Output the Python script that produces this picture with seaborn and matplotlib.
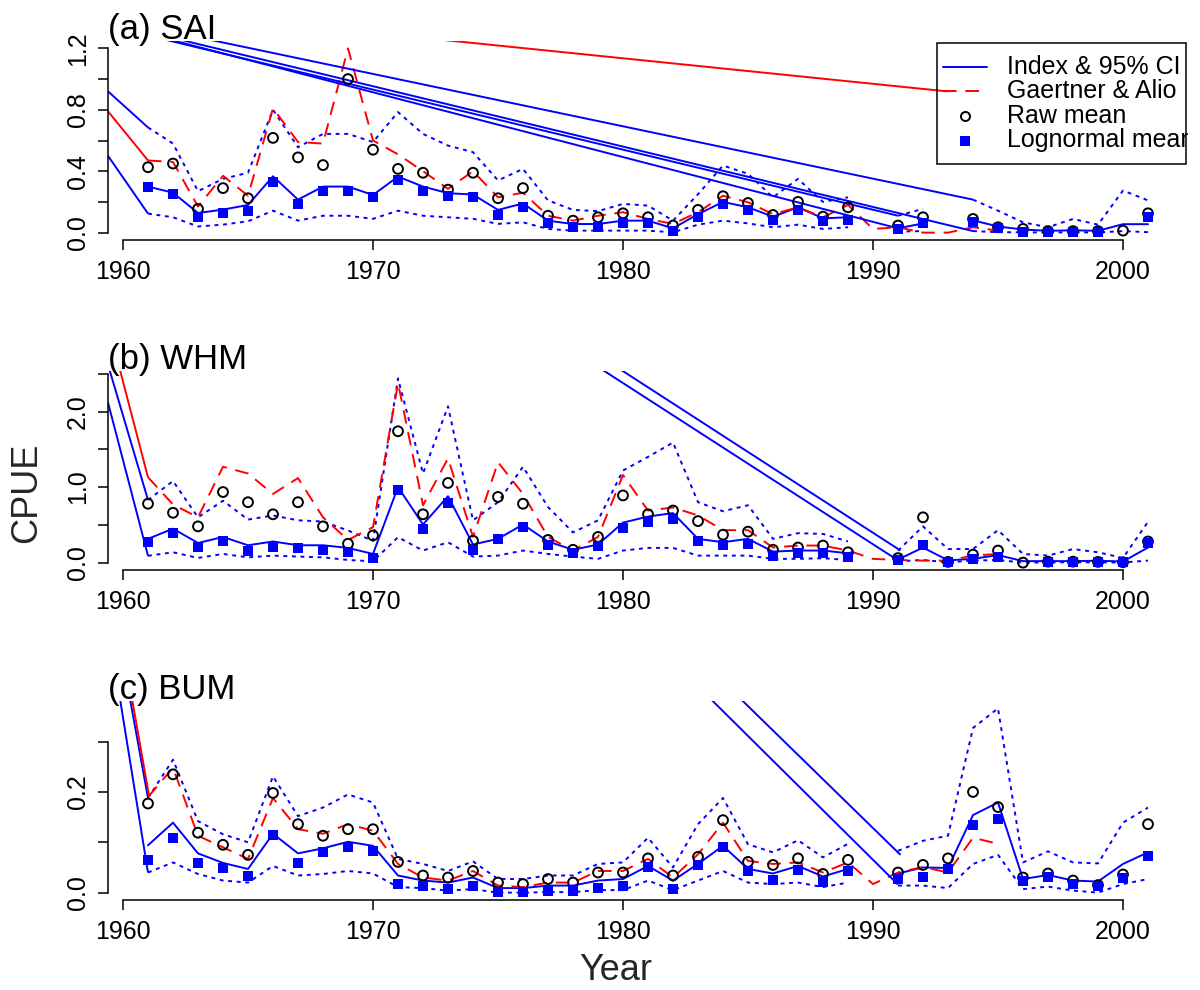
import numpy as np
import pandas as pd
import matplotlib
matplotlib.use("Agg")
import matplotlib.pyplot as plt
import seaborn as sns
from matplotlib.patches import Rectangle
from matplotlib.lines import Line2D

sns.set_theme(style="white")
plt.rcParams["font.family"] = ["Liberation Sans", "DejaVu Sans"]

nan = np.nan
years = np.arange(1961, 2002)

# ---- (a) SAI ----
sai_raw = [0.426, 0.45, 0.154, 0.29, 0.224, 0.617, 0.49, 0.44, 1.0, 0.54, 0.415, 0.39, 0.28, 0.39, 0.224,
           0.29, 0.11, 0.078, 0.10, 0.126, 0.10, 0.046, 0.148, 0.237, 0.193, 0.115, 0.20, 0.104, 0.165, nan,
           0.046, 0.10, nan, 0.089, 0.035, 0.024, 0.01, 0.01, 0.01, 0.013, 0.126]
sai_logn = [0.30, 0.25, 0.104, 0.13, 0.14, 0.33, 0.187, 0.27, 0.27, 0.23, 0.345, 0.27, 0.24, 0.23, 0.115,
            0.165, 0.06, 0.035, 0.035, 0.06, 0.06, 0.013, 0.104, 0.187, 0.148, 0.083, 0.148, 0.074, 0.083, nan,
            0.024, 0.06, nan, 0.07, 0.028, 0.007, 0.007, 0.007, 0.007, nan, 0.104]
sai_index = [0.30, 0.26, 0.128, 0.15, 0.18, 0.367, 0.215, 0.30, 0.30, 0.245, 0.365, 0.30, 0.257, 0.248, 0.148,
             0.19, 0.078, 0.056, 0.056, 0.078, 0.078, 0.028, 0.12, 0.20, 0.165, 0.104, 0.165, 0.093, 0.10, nan,
             0.028, 0.06, nan, 0.08, 0.04, 0.02, 0.012, 0.015, 0.012, 0.055, 0.055]
sai_upper = [0.685, 0.58, 0.27, 0.35, 0.39, 0.80, 0.556, 0.643, 0.643, 0.59, 0.785, 0.643, 0.567, 0.524, 0.34,
             0.415, 0.21, 0.148, 0.14, 0.187, 0.176, 0.078, 0.25, 0.437, 0.383, 0.23, 0.35, 0.20, 0.23, nan,
             0.11, 0.155, nan, 0.215, 0.143, 0.067, 0.035, 0.089, 0.052, 0.274, 0.21]
sai_lower = [0.124, 0.10, 0.04, 0.052, 0.074, 0.143, 0.078, 0.11, 0.11, 0.09, 0.143, 0.11, 0.10, 0.09, 0.057,
             0.067, 0.024, 0.013, 0.013, 0.013, 0.013, 0.002, 0.052, 0.078, 0.06, 0.035, 0.052, 0.024, 0.035, nan,
             0.007, 0.01, nan, 0.01, 0.003, 0.002, 0.001, 0.002, 0.001, 0.01, 0.003]
sai_ga = [0.47, 0.46, 0.17, 0.37, 0.24, 0.81, 0.59, 0.58, 1.2, 0.60, 0.51, 0.40, 0.285, 0.40, 0.23,
          0.26, 0.11, 0.078, 0.11, 0.133, 0.089, 0.057, 0.133, 0.24, 0.198, 0.12, 0.165, 0.10, 0.18, 0.024,
          0.035, 0.0, 0.0, 0.035, 0.013, nan, nan, nan, nan, nan, nan]

# ---- (b) WHM ----
whm_raw = [0.78, 0.66, 0.48, 0.935, 0.80, 0.64, 0.80, 0.48, 0.25, 0.36, 1.74, 0.64, 1.055, 0.29, 0.87,
           0.78, 0.30, 0.17, 0.34, 0.89, 0.64, 0.69, 0.55, 0.37, 0.41, 0.17, 0.20, 0.226, 0.137, nan,
           0.06, 0.60, 0.01, 0.106, 0.16, 0.0, 0.013, 0.013, 0.01, 0.005, 0.28]
whm_logn = [0.27, 0.39, 0.21, 0.29, 0.15, 0.21, 0.195, 0.17, 0.146, 0.058, 0.957, 0.45, 0.79, 0.17, 0.31,
            0.47, 0.235, 0.13, 0.226, 0.46, 0.54, 0.58, 0.29, 0.24, 0.25, 0.093, 0.124, 0.124, 0.08, nan,
            0.03, 0.24, 0.004, 0.045, 0.075, nan, 0.013, 0.013, 0.01, 0.005, 0.26]
whm_index = [0.315, 0.45, 0.26, 0.34, 0.23, 0.28, 0.23, 0.23, 0.195, 0.115, 1.0, 0.505, 0.88, 0.24, 0.315,
             0.505, 0.28, 0.17, 0.24, 0.53, 0.61, 0.656, 0.315, 0.27, 0.315, 0.146, 0.16, 0.16, 0.124, nan,
             0.04, 0.20, 0.03, 0.05, 0.10, 0.02, 0.02, 0.02, 0.025, 0.015, 0.20]
whm_upper = [0.83, 1.08, 0.60, 0.82, 0.57, 0.625, 0.56, 0.545, 0.425, 0.29, 2.44, 1.18, 2.07, 0.56, 0.80,
             1.27, 0.736, 0.40, 0.56, 1.22, 1.40, 1.59, 0.80, 0.68, 0.76, 0.315, 0.39, 0.38, 0.28, nan,
             0.16, 0.48, 0.18, 0.18, 0.43, 0.115, 0.093, 0.18, 0.137, 0.062, 0.54]
whm_lower = [0.09, 0.137, 0.062, 0.115, 0.07, 0.093, 0.08, 0.07, 0.035, 0.018, 0.337, 0.16, 0.27, 0.08, 0.093,
             0.16, 0.115, 0.08, 0.05, 0.16, 0.195, 0.195, 0.093, 0.093, 0.093, 0.05, 0.05, 0.058, 0.035, nan,
             0.018, 0.035, 0.004, 0.027, 0.035, 0.0, 0.003, 0.005, 0.004, 0.002, 0.027]
whm_ga = [1.13, 0.77, 0.60, 1.27, 1.18, 0.91, 1.12, 0.60, 0.30, 0.47, 2.38, 0.76, 1.38, 0.34, 1.33,
          0.91, 0.34, 0.16, 0.34, 1.16, 0.69, 0.73, 0.625, 0.43, 0.43, 0.20, 0.226, 0.226, 0.16, 0.05,
          0.035, 0.027, 0.027, 0.093, 0.115, nan, nan, nan, nan, nan, nan]

# ---- (c) BUM ----
bum_raw = [0.177, 0.235, 0.119, 0.095, 0.075, 0.198, 0.136, 0.113, 0.126, 0.126, 0.061, 0.034, 0.030, 0.043, 0.02,
           0.017, 0.027, 0.02, 0.04, 0.04, 0.068, 0.034, 0.071, 0.144, 0.061, 0.055, 0.068, 0.037, 0.065, nan,
           0.04, 0.055, 0.068, 0.20, 0.17, 0.03, 0.038, 0.024, 0.015, 0.036, 0.136]
bum_logn = [0.065, 0.109, 0.059, 0.049, 0.034, 0.115, 0.059, 0.08, 0.091, 0.083, 0.017, 0.014, 0.007, 0.014, 0.001,
            0.001, 0.004, 0.004, 0.01, 0.014, 0.05, 0.007, 0.055, 0.09, 0.042, 0.025, 0.045, 0.022, 0.042, nan,
            0.028, 0.032, 0.047, 0.134, 0.147, 0.024, 0.032, 0.017, 0.014, 0.029, 0.073]
bum_index = [0.094, 0.139, 0.078, 0.059, 0.047, 0.117, 0.078, 0.088, 0.101, 0.093, 0.034, 0.024, 0.02, 0.03, 0.009,
             0.009, 0.014, 0.014, 0.024, 0.027, 0.053, 0.024, 0.057, 0.093, 0.047, 0.038, 0.053, 0.032, 0.047, nan,
             0.038, 0.05, 0.049, 0.154, 0.179, 0.027, 0.035, 0.024, 0.022, 0.057, 0.08]
bum_upper = [0.188, 0.264, 0.142, 0.116, 0.10, 0.231, 0.152, 0.169, 0.195, 0.179, 0.067, 0.057, 0.043, 0.062, 0.027,
             0.027, 0.034, 0.034, 0.057, 0.06, 0.109, 0.05, 0.136, 0.188, 0.096, 0.08, 0.104, 0.07, 0.097, nan,
             0.083, 0.103, 0.113, 0.327, 0.366, 0.06, 0.082, 0.06, 0.058, 0.139, 0.169]
bum_lower = [0.04, 0.06, 0.037, 0.024, 0.02, 0.053, 0.034, 0.037, 0.043, 0.038, 0.011, 0.009, 0.004, 0.007, 0.0,
             0.0, 0.001, 0.001, 0.005, 0.005, 0.024, 0.005, 0.024, 0.043, 0.02, 0.017, 0.02, 0.011, 0.02, nan,
             0.014, 0.014, 0.009, 0.057, 0.075, 0.007, 0.012, 0.004, 0.0, 0.017, 0.027]
bum_ga = [0.19, 0.248, 0.113, 0.09, 0.067, 0.188, 0.126, 0.117, 0.136, 0.123, 0.057, 0.03, 0.024, 0.043, 0.014,
          0.011, 0.02, 0.02, 0.043, 0.043, 0.067, 0.03, 0.076, 0.139, 0.063, 0.057, 0.06, 0.04, 0.06, 0.017,
          0.04, 0.051, 0.04, 0.109, 0.097, nan, nan, nan, nan, nan, nan]

# stray connector segments (x0, y0, x1, y1, colour) in each panel
sai_strokes = [(1959.4, 0.92, 1961, 0.685, "blue"), (1959.4, 0.79, 1961, 0.47, "red"),
               (1959.4, 0.50, 1961, 0.124, "blue"),
               (1963.36, 1.26, 1994, 0.215, "blue"), (1961.6, 1.26, 1991, 0.11, "blue"),
               (1961.8, 1.26, 1991, 0.028, "blue"), (1962.2, 1.26, 1994, 0.01, "blue"),
               (1972.5, 1.26, 1992.96, 0.92, "red")]
whm_strokes = [(1959.4, 2.62, 1961, 0.83, "blue"), (1959.84, 2.6, 1961, 1.13, "red"),
               (1959.4, 2.12, 1961, 0.09, "blue"),
               (1978.96, 2.6, 1991, 0.03, "blue"), (1979.7, 2.6, 1991.1, 0.16, "blue")]
bum_strokes = [(1959.88, 0.385, 1961, 0.04, "blue"), (1960.28, 0.385, 1961, 0.188, "blue"),
               (1960.36, 0.385, 1961.05, 0.19, "red"),
               (1983.5, 0.385, 1991, 0.016, "blue"), (1984.7, 0.385, 1991.1, 0.075, "blue")]

panels = [
    ("(a) SAI", sai_raw, sai_logn, sai_index, sai_upper, sai_lower, sai_ga, sai_strokes,
     [0.0, 0.2, 0.4, 0.6, 0.8, 1.0, 1.2], ["0.0", "", "0.4", "", "0.8", "", "1.2"]),
    ("(b) WHM", whm_raw, whm_logn, whm_index, whm_upper, whm_lower, whm_ga, whm_strokes,
     [0.0, 0.5, 1.0, 1.5, 2.0, 2.5], ["0.0", "", "1.0", "", "2.0", ""]),
    ("(c) BUM", bum_raw, bum_logn, bum_index, bum_upper, bum_lower, bum_ga, bum_strokes,
     [0.0, 0.1, 0.2, 0.3], ["0.0", "", "0.2", ""]),
]

BLUE = "#0000FF"
RED = "#FF0000"
LW = 1.4
DOT = (0, (2.0, 2.4))
DASH = (0, (7.0, 4.5))

W, H = 1200, 990
fig = plt.figure(figsize=(W / 100, H / 100), dpi=100)


def draw_series(ax, values, **kw):
    df = pd.DataFrame({"year": years, "value": values})
    df["seg"] = df["value"].isna().cumsum()
    df = df.dropna()
    sns.lineplot(data=df, x="year", y="value", units="seg", estimator=None, sort=True,
                 ax=ax, legend=False, **kw)


axes = []
for i, (title, raw, logn, idx, up, lo, ga, strokes, yt, ylab) in enumerate(panels):
    top_px = i * 330 + 41
    ax = fig.add_axes([108 / W, 1 - (top_px + 199) / H, 1080 / W, 199 / H])
    axes.append(ax)
    ymax = np.nanmax(np.concatenate([raw, logn, idx, up, lo, ga]))

    draw_series(ax, idx, color=BLUE, linewidth=LW)
    draw_series(ax, up, color=BLUE, linewidth=LW, linestyle=DOT)
    draw_series(ax, lo, color=BLUE, linewidth=LW, linestyle=DOT)
    draw_series(ax, ga, color=RED, linewidth=LW, linestyle=DASH)
    for x0, y0, x1, y1, c in strokes:
        ax.plot([x0, x1], [y0, y1], color=BLUE if c == "blue" else RED, linewidth=LW,
                solid_capstyle="butt")

    sns.scatterplot(x=years, y=raw, ax=ax, marker="o", s=50, facecolor="none",
                    edgecolor="black", linewidth=1.4, zorder=4)
    sns.scatterplot(x=years, y=logn, ax=ax, marker="s", s=50, color=BLUE,
                    linewidth=0, zorder=5)

    ax.set_xlim(1959.4, 2002.6)
    ax.set_ylim(-0.04 * ymax, 1.04 * ymax)
    ax.set_xlabel("")
    ax.set_ylabel("")
    ax.set_xticks([1960, 1970, 1980, 1990, 2000])
    ax.set_xticklabels(["1960", "1970", "1980", "1990", "2000"])
    ax.set_yticks(yt)
    ax.set_yticklabels(ylab, rotation=90, va="center")
    for s in ("top", "right"):
        ax.spines[s].set_visible(False)
    for s in ("left", "bottom"):
        ax.spines[s].set_color("black")
        ax.spines[s].set_linewidth(1.1)
    ax.spines["left"].set_bounds(yt[0], yt[-1])
    ax.spines["bottom"].set_bounds(1960, 2000)
    ax.tick_params(axis="both", which="major", direction="out", length=7.2, width=1.1,
                   color="black", labelcolor="black", labelsize=18)
    ax.tick_params(axis="y", pad=6)
    ax.tick_params(axis="x", pad=7)
    ax.tick_params(left=True, bottom=True)
    ax.grid(False)
    ax.set_facecolor("none")
    ax.text(0.0, 1.0 + 2 / 199, title, transform=ax.transAxes, ha="left", va="baseline",
            fontsize=25, color="black")

# legend box in the top panel
ax = axes[0]
ax.add_patch(Rectangle((1992.56, 0.448), 2002.52 - 1992.56, 1.234 - 0.448, fill=False,
                       edgecolor="black", linewidth=1.1, zorder=6))
ax.add_line(Line2D([1992.8, 1994.56], [1.078, 1.078], color=BLUE, linewidth=LW, zorder=6))
ax.add_line(Line2D([1992.8, 1994.56], [0.92, 0.92], color=RED, linewidth=LW, linestyle=DASH, zorder=6))
ax.plot([1993.68], [0.759], marker="o", markersize=6.5, mfc="none", mec="black", mew=1.4, zorder=6)
ax.plot([1993.68], [0.60], marker="s", markersize=6.8, mfc=BLUE, mec=BLUE, mew=0, zorder=6)
for yv, txt in zip([1.078, 0.92, 0.759, 0.60],
                   ["Index & 95% CI", "Gaertner & Alio", "Raw mean", "Lognormal mean"]):
    ax.text(1995.36, yv, txt, ha="left", va="center", fontsize=18, color="black",
            clip_on=True, zorder=6)

fig.text(27 / W, 1 - 493 / H, "CPUE", rotation=90, ha="center", va="center", fontsize=26)
fig.text(616 / W, 1 - 971 / H, "Year", ha="center", va="center", fontsize=26)

fig.savefig("out.png", dpi=100, facecolor="white")
